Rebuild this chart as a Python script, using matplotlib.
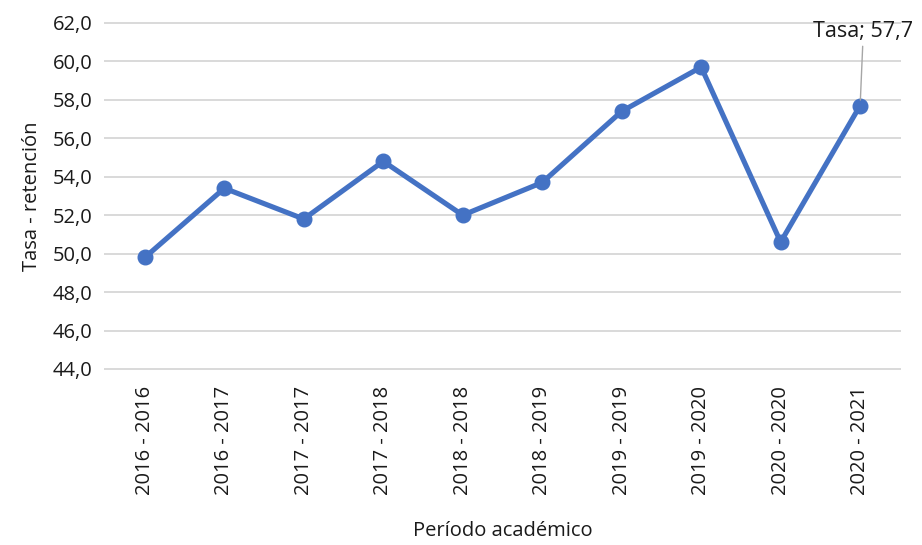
import numpy as np
from matplotlib import pyplot as plt

periodos = ["2016 - 2016", "2016 - 2017", "2017 - 2017", "2017 - 2018", "2018 - 2018",
            "2018 - 2019", "2019 - 2019", "2019 - 2020", "2020 - 2020", "2020 - 2021"]
tasa = [49.8, 53.4, 51.8, 54.8, 52.0, 53.7, 57.4, 59.7, 50.6, 57.7]
y_ticks = [44, 46, 48, 50, 52, 54, 56, 58, 60, 62]

plt.rcParams['font.family'] = ['Open Sans', 'DejaVu Sans']
txt_col = "#1a1a1a"

fig = plt.figure(figsize=(9.22, 5.45), dpi=100)
ax = fig.add_axes([0.114, 0.323, 0.862, 0.635])

x = np.arange(len(periodos))
ax.plot(x, tasa, color="#4472C4", linewidth=3.7, marker="o", markersize=10.5,
        solid_joinstyle="round", zorder=3)

ax.set_xlim(-0.5, len(periodos) - 0.5)
ax.set_ylim(44, 62)
ax.set_yticks(y_ticks)
ax.set_yticklabels([f"{v:.1f}".replace(".", ",") for v in y_ticks], fontsize=14.5, color=txt_col)
ax.set_xticks(x)
ax.set_xticklabels(periodos, rotation=90, fontsize=14.5, color=txt_col)
ax.tick_params(length=0, pad=9)
ax.tick_params(axis="x", pad=12)
ax.grid(axis="y", color="#D9D9D9", linewidth=1.4)
for gl in ax.get_ygridlines():
    gl.set_clip_on(False)
ax.set_axisbelow(True)
for s in ax.spines.values():
    s.set_visible(False)

ax.set_ylabel("Tasa - retención", fontsize=14.5, color=txt_col, labelpad=8)
ax.set_xlabel("Período académico", fontsize=14.5, color=txt_col, labelpad=19)

last = len(tasa) - 1
ax.annotate(f"Tasa; {tasa[last]:.1f}".replace(".", ","), xy=(x[last], tasa[last]),
            xytext=(x[last] + 0.04, 61.0), ha="center", va="bottom", fontsize=15.5,
            color=txt_col, annotation_clip=False,
            arrowprops=dict(arrowstyle="-", color="#A6A6A6", linewidth=1,
                            shrinkA=1, shrinkB=4))

fig.savefig("out.png", dpi=100)
